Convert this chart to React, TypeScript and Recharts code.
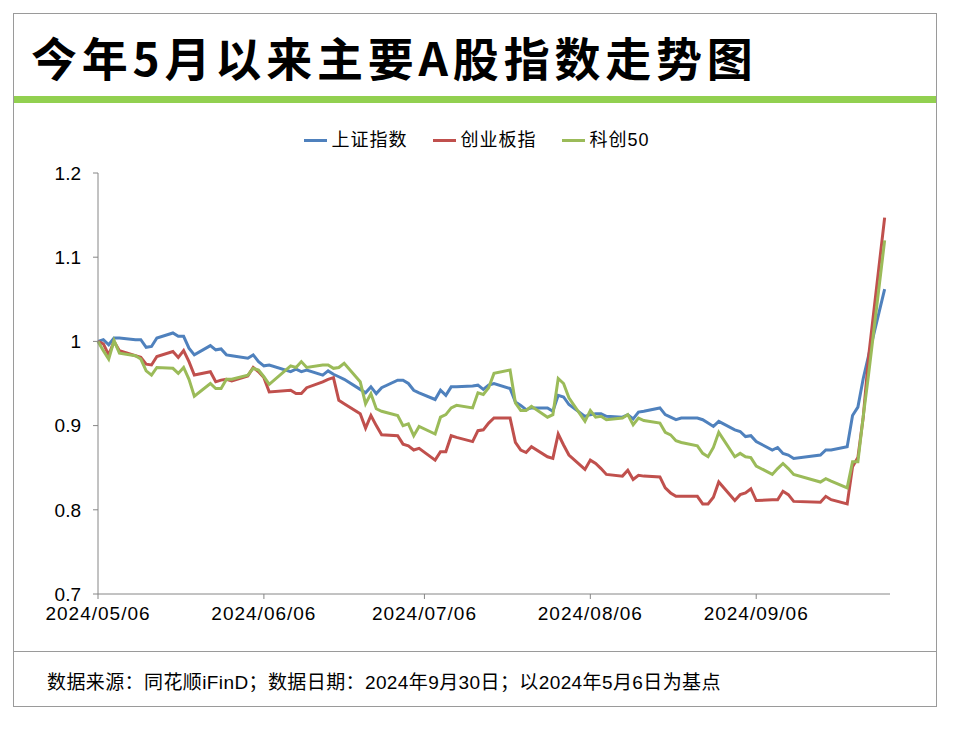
import React from "react";
import { LineChart, Line, XAxis, YAxis } from "recharts";

const BASE_DATE = "2024-05-06";

const tradeDates = [
  "2024-05-06", "2024-05-07", "2024-05-08", "2024-05-09", "2024-05-10",
  "2024-05-13", "2024-05-14", "2024-05-15", "2024-05-16", "2024-05-17",
  "2024-05-20", "2024-05-21", "2024-05-22", "2024-05-23", "2024-05-24",
  "2024-05-27", "2024-05-28", "2024-05-29", "2024-05-30", "2024-05-31",
  "2024-06-03", "2024-06-04", "2024-06-05", "2024-06-06", "2024-06-07",
  "2024-06-11", "2024-06-12", "2024-06-13", "2024-06-14",
  "2024-06-17", "2024-06-18", "2024-06-19", "2024-06-20", "2024-06-21",
  "2024-06-24", "2024-06-25", "2024-06-26", "2024-06-27", "2024-06-28",
  "2024-07-01", "2024-07-02", "2024-07-03", "2024-07-04", "2024-07-05",
  "2024-07-08", "2024-07-09", "2024-07-10", "2024-07-11", "2024-07-12",
  "2024-07-15", "2024-07-16", "2024-07-17", "2024-07-18", "2024-07-19",
  "2024-07-22", "2024-07-23", "2024-07-24", "2024-07-25", "2024-07-26",
  "2024-07-29", "2024-07-30", "2024-07-31", "2024-08-01", "2024-08-02",
  "2024-08-05", "2024-08-06", "2024-08-07", "2024-08-08", "2024-08-09",
  "2024-08-12", "2024-08-13", "2024-08-14", "2024-08-15", "2024-08-16",
  "2024-08-19", "2024-08-20", "2024-08-21", "2024-08-22", "2024-08-23",
  "2024-08-26", "2024-08-27", "2024-08-28", "2024-08-29", "2024-08-30",
  "2024-09-02", "2024-09-03", "2024-09-04", "2024-09-05", "2024-09-06",
  "2024-09-09", "2024-09-10", "2024-09-11", "2024-09-12", "2024-09-13",
  "2024-09-18", "2024-09-19", "2024-09-20",
  "2024-09-23", "2024-09-24", "2024-09-25", "2024-09-26", "2024-09-27",
  "2024-09-30",
];

// 上证指数
const shIndex = [
  1.000, 1.002, 0.996, 1.004, 1.004,
  1.002, 1.002, 0.993, 0.994, 1.004,
  1.010, 1.006, 1.006, 0.992, 0.984,
  0.995, 0.990, 0.991, 0.984, 0.983,
  0.980, 0.984, 0.976, 0.971, 0.972,
  0.964, 0.967, 0.964, 0.966,
  0.960, 0.965, 0.961, 0.958, 0.955,
  0.943, 0.939, 0.946, 0.938, 0.945,
  0.954, 0.954, 0.950, 0.942, 0.939,
  0.931, 0.942, 0.936, 0.946, 0.946,
  0.947, 0.948, 0.943, 0.948, 0.950,
  0.944, 0.928, 0.924, 0.919, 0.921,
  0.921, 0.917, 0.936, 0.934, 0.925,
  0.911, 0.913, 0.914, 0.914, 0.911,
  0.910, 0.913, 0.908, 0.916, 0.917,
  0.921, 0.913, 0.910, 0.907, 0.909,
  0.909, 0.907, 0.903, 0.899, 0.905,
  0.895, 0.893, 0.887, 0.888, 0.881,
  0.871, 0.874, 0.867, 0.865, 0.861,
  0.865, 0.871, 0.871,
  0.875, 0.912, 0.922, 0.956, 0.983,
  1.062,
];

// 创业板指
const cyIndex = [
  1.000, 0.997, 0.984, 1.000, 0.989,
  0.983, 0.981, 0.973, 0.972, 0.982,
  0.988, 0.981, 0.989, 0.976, 0.960,
  0.964, 0.952, 0.954, 0.955, 0.953,
  0.959, 0.969, 0.964, 0.957, 0.940,
  0.942, 0.938, 0.938, 0.945,
  0.952, 0.955, 0.957, 0.930, 0.926,
  0.914, 0.897, 0.912, 0.900, 0.889,
  0.888, 0.878, 0.876, 0.871, 0.873,
  0.859, 0.869, 0.869, 0.888, 0.886,
  0.881, 0.894, 0.895, 0.903, 0.909,
  0.909, 0.880, 0.871, 0.868, 0.875,
  0.863, 0.861, 0.890, 0.877, 0.865,
  0.848, 0.859, 0.855, 0.849, 0.842,
  0.840, 0.847, 0.836, 0.841, 0.840,
  0.839, 0.826, 0.820, 0.816, 0.816,
  0.816, 0.807, 0.807, 0.815, 0.833,
  0.811, 0.818, 0.820, 0.825, 0.811,
  0.812, 0.812, 0.822, 0.818, 0.810,
  0.809, 0.816, 0.812,
  0.807, 0.851, 0.862, 0.910, 0.982,
  1.147,
];

// 科创50
const kcIndex = [
  1.000, 0.989, 0.979, 1.001, 0.986,
  0.983, 0.979, 0.965, 0.960, 0.969,
  0.968, 0.962, 0.969, 0.955, 0.935,
  0.950, 0.944, 0.944, 0.955, 0.955,
  0.960, 0.968, 0.966, 0.958, 0.949,
  0.971, 0.969, 0.976, 0.969,
  0.972, 0.972, 0.968, 0.969, 0.974,
  0.952, 0.926, 0.938, 0.920, 0.917,
  0.912, 0.900, 0.902, 0.888, 0.899,
  0.890, 0.910, 0.913, 0.921, 0.924,
  0.921, 0.939, 0.937, 0.945, 0.962,
  0.966, 0.927, 0.918, 0.918, 0.923,
  0.910, 0.913, 0.956, 0.950, 0.933,
  0.905, 0.918, 0.910, 0.911, 0.907,
  0.909, 0.913, 0.901, 0.909, 0.906,
  0.903, 0.892, 0.889, 0.882, 0.880,
  0.876, 0.867, 0.863, 0.874, 0.892,
  0.863, 0.867, 0.863, 0.862, 0.852,
  0.842, 0.849, 0.855, 0.849, 0.842,
  0.833, 0.837, 0.834,
  0.826, 0.857, 0.857, 0.911, 0.961,
  1.120,
];

const xTickDates = ["2024-05-06", "2024-06-06", "2024-07-06", "2024-08-06", "2024-09-06"];
const yTicks = [0.7, 0.8, 0.9, 1, 1.1, 1.2];

const SERIES = [
  { key: "sh", name: "上证指数", color: "#4F81BD" },
  { key: "cy", name: "创业板指", color: "#C0504D" },
  { key: "kc", name: "科创50", color: "#9BBB59" },
];

const DAY_MS = 86400000;
const toDay = (d: string) => Math.round((Date.parse(d) - Date.parse(BASE_DATE)) / DAY_MS);

const chartData = tradeDates.map((d, i) => ({
  day: toDay(d),
  sh: shIndex[i],
  cy: cyIndex[i],
  kc: kcIndex[i],
}));

const xTicks = xTickDates.map(toDay);
const xLabel = (v: number) => {
  const idx = xTicks.indexOf(v);
  return idx >= 0 ? xTickDates[idx].replace(/-/g, "/") : "";
};
const lastDay = toDay(tradeDates[tradeDates.length - 1]) + 1;

const LATIN = "'Liberation Sans', Arial, 'Noto Sans CJK SC', sans-serif";
const CJK = "'Liberation Sans', 'Noto Sans CJK SC', sans-serif";

export default function App() {
  return (
    <div style={{ position: "absolute", left: 0, top: 0, width: 954, height: 730, background: "#fff", fontFamily: CJK }}>
      {/* frame */}
      <div style={{ position: "absolute", left: 13, top: 13, width: 922, height: 692, border: "1px solid #9a9a9a" }} />
      <div style={{ position: "absolute", left: 14, top: 96, width: 922, height: 7, background: "#92D050" }} />
      <div style={{ position: "absolute", left: 14, top: 651, width: 922, height: 1, background: "#9a9a9a" }} />

      <div
        style={{
          position: "absolute",
          left: 31,
          top: 26,
          fontSize: 46,
          fontWeight: 700,
          letterSpacing: 4.8,
          lineHeight: "60px",
          fontFamily: "'Noto Sans CJK SC', sans-serif",
          color: "#000",
        }}
      >
        今年5月以来主要A股指数走势图
      </div>

      {/* legend */}
      <div
        style={{
          position: "absolute",
          left: 0,
          top: 128,
          width: 954,
          display: "flex",
          justifyContent: "center",
          fontSize: 18,
          letterSpacing: 1,
          lineHeight: "24px",
          color: "#000",
        }}
      >
        {SERIES.map((s) => (
          <div key={s.key} style={{ display: "flex", alignItems: "center", margin: "0 13px" }}>
            <span style={{ display: "inline-block", width: 23, height: 3, background: s.color, marginRight: 4 }} />
            <span>{s.name}</span>
          </div>
        ))}
      </div>

      <div style={{ position: "absolute", left: 0, top: 0 }}>
        <LineChart
          width={954}
          height={730}
          data={chartData}
          margin={{ top: 173, right: 64, bottom: 106, left: 38 }}
        >
          <XAxis
            type="number"
            dataKey="day"
            domain={[0, lastDay]}
            ticks={xTicks}
            tickFormatter={xLabel}
            interval={0}
            height={30}
            stroke="#868686"
            tickSize={5}
            tick={{ fill: "#000", fontSize: 19, fontFamily: LATIN, letterSpacing: 1 }}
            tickMargin={8}
          />
          <YAxis
            type="number"
            domain={[0.7, 1.2]}
            ticks={yTicks}
            width={60}
            stroke="#868686"
            tickSize={5}
            tickMargin={12}
            tick={{ fill: "#000", fontSize: 19, fontFamily: LATIN }}
          />
          {SERIES.map((s) => (
            <Line
              key={s.key}
              type="linear"
              dataKey={s.key}
              name={s.name}
              stroke={s.color}
              strokeWidth={3}
              dot={false}
              isAnimationActive={false}
            />
          ))}
        </LineChart>
      </div>

      <div style={{ position: "absolute", left: 47, top: 671, fontSize: 19, letterSpacing: 0.4, lineHeight: "24px", color: "#000" }}>
        数据来源：同花顺iFinD；数据日期：2024年9月30日；以2024年5月6日为基点
      </div>
    </div>
  );
}
